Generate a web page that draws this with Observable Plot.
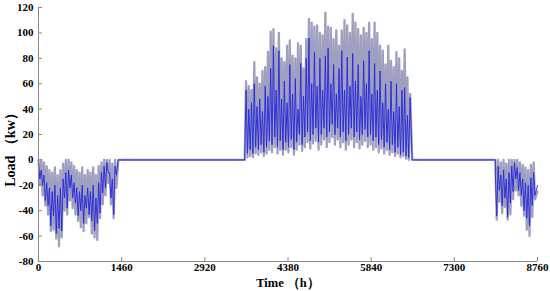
<!DOCTYPE html>
<html><head><meta charset="utf-8">
<script src="https://cdn.jsdelivr.net/npm/d3@7"></script>
<script src="https://cdn.jsdelivr.net/npm/@observablehq/plot@0.6"></script>
<style>body{margin:0;background:#fff}</style>
</head><body><div id="chart"></div>
<script>
const xTicks = [0, 1460, 2920, 4380, 5840, 7300, 8760];
const yTicks = [-80, -60, -40, -20, 0, 20, 40, 60, 80, 100, 120];
const step = 48; // hours between successive spikes

// Heating period (start of year)
const w1Start = 0, w1End = 1400;
const w1GrayPeak   = [-20,-28,-36,-43,-56,-55,-62,-68,-61,-40,-43,-32,-38,-43,-48,-53,-56,-50,-45,-58,-61,-63,-46,-35,-28,-18,-35,-46,-22];
const w1BluePeak   = [-15,-20,-32,-36,-52,-44,-58,-54,-56,-30,-38,-22,-30,-34,-44,-40,-50,-38,-43,-48,-56,-50,-42,-26,-22,-10,-30,-43,-12];
const w1BlueTrough = [-2,-8,-12,-18,-22,-25,-20,-28,-22,-15,-10,-8,-12,-18,-22,-25,-20,-28,-22,-25,-20,-30,-18,-10,-5,-2,-10,-15,-5];
const w1GrayTrough = [0,0,-2,-5,-8,-10,-6,-12,-8,-3,0,0,-2,-5,-8,-10,-6,-12,-8,-10,-6,-12,-5,-2,0,0,0,-3,0];

// Cooling period (summer)
const sStart = 3620, sEnd = 6560;
const sGrayPeak   = [62,58,55,77,65,60,70,73,85,101,103,88,100,80,77,90,94,82,80,92,90,72,95,111,108,105,106,100,98,116,105,104,95,102,90,102,110,106,100,115,108,103,98,104,100,108,95,108,100,90,86,75,90,78,73,85,80,70,87,65,52];
const sBluePeak   = [55,40,45,60,42,48,38,58,50,72,90,55,86,48,62,45,75,52,64,40,76,50,80,96,60,85,58,80,55,82,88,60,75,52,72,86,55,81,58,84,62,75,50,78,60,86,52,76,55,70,45,60,40,62,38,60,42,55,57,35,49];
const sBlueTrough = [2,5,8,5,10,8,12,6,10,15,12,18,10,15,8,14,10,16,8,14,20,12,18,22,15,20,25,14,20,25,18,22,28,20,25,18,22,15,20,25,18,22,16,20,24,18,20,15,18,12,16,10,14,8,12,6,10,4,6,3,2];
const sGrayTrough = [0,2,3,2,5,4,6,3,5,8,6,10,5,8,4,8,6,10,4,8,12,7,10,14,9,13,15,8,12,16,10,14,18,12,16,10,14,8,12,16,10,14,9,12,15,10,12,8,10,6,9,5,8,4,6,3,5,2,3,1,0];

// Heating period (end of year)
const w2Start = 8020, w2EndGray = -25, w2EndBlue = -20;
const w2GrayPeak   = [-47,-33,-42,-37,-47,-43,-31,-24,-28,-36,-44,-55,-60,-45,-31];
const w2BluePeak   = [-44,-24,-36,-30,-45,-34,-25,-15,-24,-28,-40,-46,-52,-36,-28];
const w2BlueTrough = [-10,-5,-12,-8,-15,-10,-5,-2,-6,-10,-15,-18,-20,-14,-10];
const w2GrayTrough = [0,0,-2,0,-3,0,0,0,0,-2,-4,-6,-8,-4,-2];

function zigzag(start, peaks, troughs) {
  const pts = [];
  peaks.forEach((p, i) => {
    pts.push({t: start + i * step, v: troughs[i]});
    pts.push({t: start + i * step + step / 2, v: p});
  });
  return pts;
}
function series(g) {
  return [
    {t: 0, v: 0},
    ...zigzag(w1Start, g[0], g[1]),
    {t: w1End, v: 0},
    {t: sStart, v: 0},
    ...zigzag(sStart, g[2], g[3]),
    {t: sEnd, v: 0},
    {t: w2Start, v: 0},
    ...zigzag(w2Start, g[4], g[5]),
    {t: 8760, v: g[6]}
  ];
}
const gray = series([w1GrayPeak, w1GrayTrough, sGrayPeak, sGrayTrough, w2GrayPeak, w2GrayTrough, w2EndGray]);
const blue = series([w1BluePeak, w1BlueTrough, sBluePeak, sBlueTrough, w2BluePeak, w2BlueTrough, w2EndBlue]);

const chart = Plot.plot({
  width: 550, height: 291,
  marginLeft: 38, marginRight: 13, marginTop: 7, marginBottom: 30,
  style: {fontFamily: "'Liberation Serif', 'Times New Roman', serif", fontWeight: "bold", fontSize: "11px", color: "#000", background: "#fff"},
  x: {domain: [0, 8760]},
  y: {domain: [-80, 120]},
  marks: [
    Plot.line(gray, {x: "t", y: "v", stroke: "#9f9fc0", strokeWidth: 2.3}),
    Plot.line(blue, {x: "t", y: "v", stroke: "#2626dc", strokeWidth: 0.9}),
    Plot.ruleX([0], {stroke: "#888"}),
    Plot.ruleY([-80], {stroke: "#888"}),
    Plot.axisX({ticks: xTicks, tickFormat: d => String(d), tickSize: -4, tickPadding: 6, stroke: "#888",
      label: "Time （h）", labelAnchor: "center", labelArrow: "none", labelOffset: 25, fontSize: 11}),
    Plot.axisY({ticks: yTicks, tickFormat: d => String(d), tickSize: -4, tickPadding: 9, stroke: "#888", label: null, fontSize: 11}),
    Plot.text(["Load （kw）"], {frameAnchor: "left", textAnchor: "middle", rotate: -90, dx: -28, dy: 12, fontSize: 14, fontWeight: "bold"})
  ]
});
chart.querySelectorAll('[aria-label="x-axis label"] text').forEach(t => t.setAttribute("font-size", "12.5"));
document.getElementById("chart").appendChild(chart);
</script>
</body></html>
